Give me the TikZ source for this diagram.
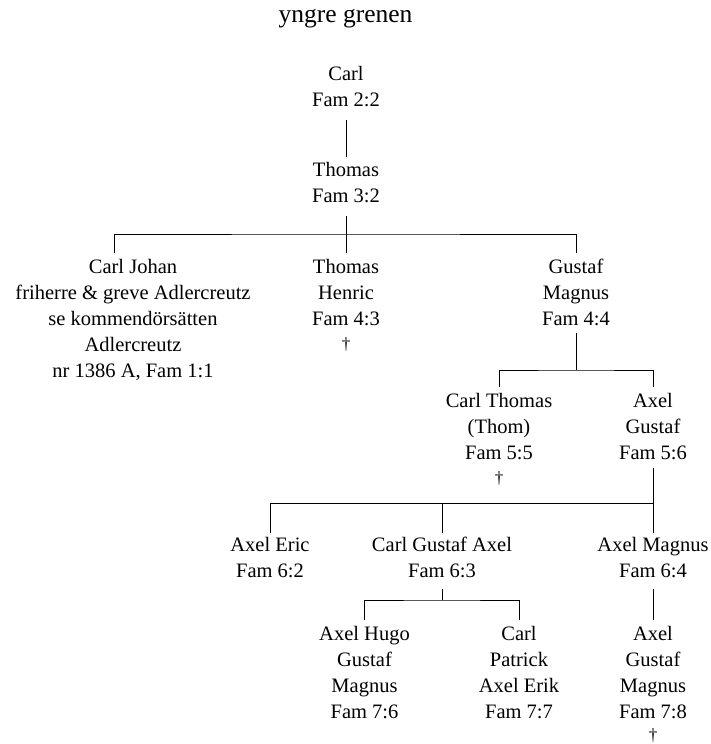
\documentclass[tikz,border=0pt]{standalone}
\usepackage{fontspec}
\setmainfont{Liberation Serif}
\newcommand{\dgr}[1][1.5pt]{\raisebox{#1}{\fontsize{17}{26}\selectfont †}}
\begin{document}
\begin{tikzpicture}[x=1pt,y=-1pt,
  person/.style={align=center, anchor=north, inner sep=0pt, font=\fontsize{20.5}{26}\selectfont},
  link/.style={line width=0.8pt, draw=black}]
\useasboundingbox[fill=white] (0,0) rectangle (710,744);
\node[anchor=base, inner sep=0pt, font=\fontsize{25.5}{30}\selectfont] (title) at (345.5,22) {yngre grenen};
\node[person] (carl) at (346,66) {Carl\\Fam 2:2};
\node[person] (thomas) at (346,162) {Thomas\\Fam 3:2};
\node[person] (cj) at (133,259) {Carl Johan\\friherre \& greve Adlercreutz\\se kommendörsätten\\Adlercreutz\\nr 1386 A, Fam 1:1};
\node[person] (th) at (346,259) {Thomas\\Henric\\Fam 4:3\\\dgr};
\node[person] (gm) at (576,259) {Gustaf\\Magnus\\Fam 4:4};
\node[person] (ct) at (499,393) {Carl Thomas\\(Thom)\\Fam 5:5\\\dgr};
\node[person] (ag) at (653,393) {Axel\\Gustaf\\Fam 5:6};
\node[person] (ae) at (270,537) {Axel Eric\\Fam 6:2};
\node[person] (cga) at (442,537) {Carl Gustaf Axel\\Fam 6:3};
\node[person] (am) at (653,537) {Axel Magnus\\Fam 6:4};
\node[person] (ahg) at (364.5,626) {Axel Hugo\\Gustaf\\Magnus\\Fam 7:6};
\node[person] (cp) at (519,626) {Carl\\Patrick\\Axel Erik\\Fam 7:7};
\node[person] (agm) at (653,626) {Axel\\Gustaf\\Magnus\\Fam 7:8\\\dgr[4pt]};
% Carl -> Thomas
\draw[link, shorten <=13pt, shorten >=5pt] (carl.south) -- (thomas.north);
% Thomas family
\coordinate (b1) at (346,234);
\coordinate (cjtop) at (114,253);
\draw[link, shorten <=13pt] (thomas.south) -- (b1);
\draw[link, shorten >=6pt] (cjtop) |- (b1) -| (gm.north);
\draw[link, shorten >=6pt] (b1) -- (th.north);
% Gustaf Magnus family
\coordinate (b2) at (576,370);
\draw[link, shorten <=7pt] (gm.south) -- (b2);
\draw[link, shorten <=6pt, shorten >=6pt] (ct.north) |- (b2) -| (ag.north);
% Axel Gustaf family
\coordinate (b3) at (653,503);
\draw[link, shorten <=8pt] (ag.south) -- (b3);
\draw[link, shorten <=4pt, shorten >=4pt] (ae.north) |- (b3) -| (am.north);
\draw[link, shorten >=4pt] (b3 -| cga.north) -- (cga.north);
% Carl Gustaf Axel family
\coordinate (b4) at (442,600);
\draw[link, shorten <=11pt] (cga.south) -- (b4);
\draw[link, shorten <=6pt, shorten >=6pt] (ahg.north) |- (b4) -| (cp.north);
% Axel Magnus -> Axel Gustaf Magnus
\draw[link, shorten <=11pt, shorten >=6pt] (am.south) -- (agm.north);
\end{tikzpicture}
\end{document}
